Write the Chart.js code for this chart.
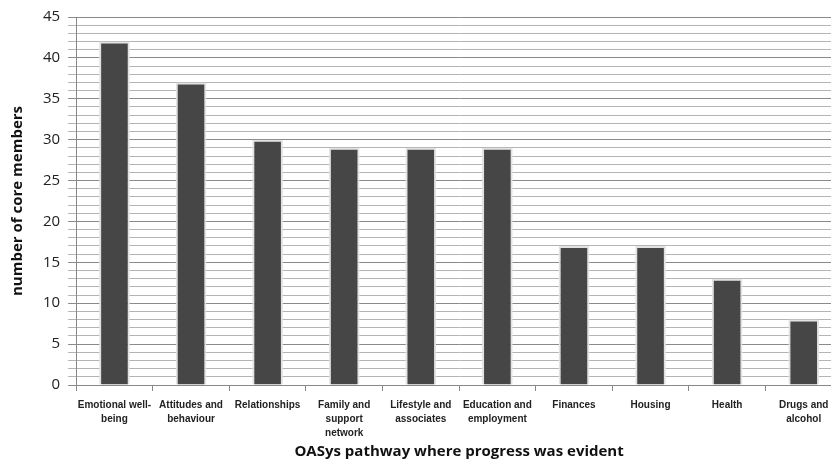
<!DOCTYPE html>
<html>
<head>
<meta charset="utf-8">
<script src="https://cdn.jsdelivr.net/npm/chart.js@4/dist/chart.umd.min.js"></script>
<style>
  html, body { margin: 0; padding: 0; background: #fff; overflow: hidden; }
  #wrap { width: 842px; height: 463px; }
</style>
</head>
<body>
<div id="wrap"><canvas id="myChart" width="842" height="463"></canvas></div>
<script>
// OASys pathways and how many core members showed progress in each
const pathways = [
    ['Emotional well-', 'being'],
    ['Attitudes and', 'behaviour'],
    'Relationships',
    ['Family and', 'support', 'network'],
    ['Lifestyle and', 'associates'],
    ['Education and', 'employment'],
    'Finances',
    'Housing',
    'Health',
    ['Drugs and', 'alcohol']
];
const coreMembers = [42, 37, 30, 29, 29, 29, 17, 17, 13, 8];
const yTickLabels = [0, 5, 10, 15, 20, 25, 30, 35, 40, 45];

let ctx = document.getElementById('myChart').getContext('2d');

var myChart = new Chart(ctx, {
    type: 'bar',
    data: {
        labels: pathways,
        datasets: [{
            label: 'core members',
            backgroundColor: '#464646',
            borderColor: '#e2e2e2',
            borderWidth: 2,
            data: coreMembers,
            barPercentage: 0.4,
            categoryPercentage: 1
        }]
    },
    options: {
        responsive: false,
        animation: false,
        layout: {
            padding: { top: 11, right: 0, left: 9, bottom: 2 }
        },
        plugins: {
            legend: { display: false },
            tooltip: { enabled: false }
        },
        scales: {
            x: {
                grid: {
                    offset: true,
                    drawOnChartArea: false,
                    color: '#888',
                    tickLength: 6
                },
                border: { color: '#888' },
                ticks: {
                    color: '#222',
                    maxRotation: 0,
                    autoSkip: false,
                    font: { family: 'Liberation Sans Narrow, Liberation Sans', size: 10, weight: 'bold', lineHeight: 1.4 },
                    padding: 7
                },
                title: {
                    display: true,
                    text: 'OASys pathway where progress was evident',
                    color: '#111',
                    font: { family: 'Open Sans', size: 15, weight: 'bold' },
                    padding: { top: -4, bottom: 0 }
                }
            },
            y: {
                min: 0,
                max: 45,
                ticks: {
                    stepSize: 1,
                    autoSkip: false,
                    color: '#222',
                    font: { family: 'Open Sans', size: 15 },
                    padding: 8,
                    callback: function (v) {
                        return yTickLabels.includes(v) ? v : '';
                    }
                },
                grid: {
                    color: function (c) {
                        return c.tick && c.tick.value % 5 === 0 ? '#8a8a8a' : '#b4b4b4';
                    },
                    tickLength: 8
                },
                border: { color: '#888' },
                title: {
                    display: true,
                    text: 'number of core members',
                    color: '#111',
                    font: { family: 'Open Sans', size: 15, weight: 'bold' },
                    padding: { top: 0, bottom: 8 }
                }
            }
        }
    }
})
</script>
</body>
</html>
